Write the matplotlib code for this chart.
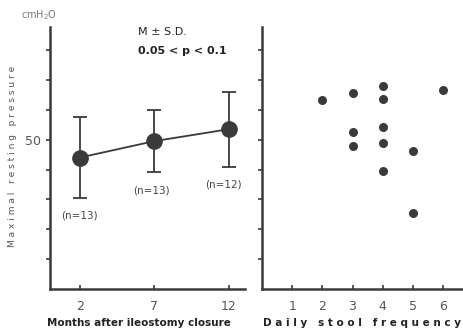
import matplotlib.pyplot as plt

# left panel: months after ileostomy closure
months = [2, 7, 12]
mean_pressure = [44, 49.5, 53.5]
sd_pressure = [13.5, 10.5, 12.5]
n_labels = ["(n=13)", "(n=13)", "(n=12)"]

# right panel: daily stool frequency vs pressure
stool_freq = [2, 3, 3, 3, 4, 4, 4, 4, 4, 5, 5, 6]
stool_pressure = [63.3, 65.5, 52.7, 48, 68, 63.5, 54.3, 49, 39.4, 46.3, 25.3, 66.7]

line_col = "#3a3a3a"
text_col = "#222222"

fig = plt.figure(figsize=(4.64, 3.32), dpi=100)
ax1 = fig.add_axes([0.1078, 0.1295, 0.4202, 0.7892])
ax2 = fig.add_axes([0.5647, 0.1295, 0.431, 0.7892])

for ax in (ax1, ax2):
    for s in ("top", "right"):
        ax.spines[s].set_visible(False)
    for s in ("left", "bottom"):
        ax.spines[s].set_color(line_col)
        ax.spines[s].set_linewidth(1.8)
    ax.set_ylim(0, 87.7)
    ax.set_yticks(range(10, 90, 10))
    ax.tick_params(axis="y", direction="out", length=3, width=1.2, color=line_col)
    ax.tick_params(axis="x", direction="in", length=3, width=1.2, color=line_col,
                   labelsize=9, labelcolor="#555555", pad=8)

ax1.set_yticklabels(["50" if v == 50 else "" for v in range(10, 90, 10)],
                    fontsize=9, color="#555555")
ax2.set_yticklabels([])

ax1.errorbar(months, mean_pressure, yerr=sd_pressure, color=line_col, marker="o",
             markersize=11, linewidth=1.3, elinewidth=1.3, capsize=5, capthick=1.3)
ax1.set_xlim(0, 13.07)
ax1.set_xticks(months)

n_xshift = [0, -0.2, -0.4]
for m, mu, sd, lab, dx in zip(months, mean_pressure, sd_pressure, n_labels, n_xshift):
    ax1.text(m + dx, mu - sd - 6, lab, ha="center", va="center", fontsize=7.5,
             color="#444444")

ax2.scatter(stool_freq, stool_pressure, s=30, color=line_col, zorder=3)
ax2.set_xlim(0, 6.63)
ax2.set_xticks(range(1, 7))

fig.text(0.085, 0.955, "cmH$_2$O", fontsize=7, color="#777777", ha="center", va="center")
fig.text(0.298, 0.905, "M ± S.D.", fontsize=8, color=text_col, ha="left", va="center")
fig.text(0.298, 0.845, "0.05 < p < 0.1", fontsize=8, color=text_col, ha="left",
         va="center", weight="bold")
fig.text(0.026, 0.53, "M a x i m a l   r e s t i n g   p r e s s u r e", rotation=90,
         fontsize=6.5, color="#555555", ha="center", va="center")
fig.text(0.3, 0.028, "Months after ileostomy closure", fontsize=7.5, color=text_col,
         ha="center", va="center", weight="bold")
fig.text(0.78, 0.028, "D a i l y   s t o o l   f r e q u e n c y", fontsize=7.5,
         color=text_col, ha="center", va="center", weight="bold")

fig.savefig("out.png", dpi=100, facecolor="white")
